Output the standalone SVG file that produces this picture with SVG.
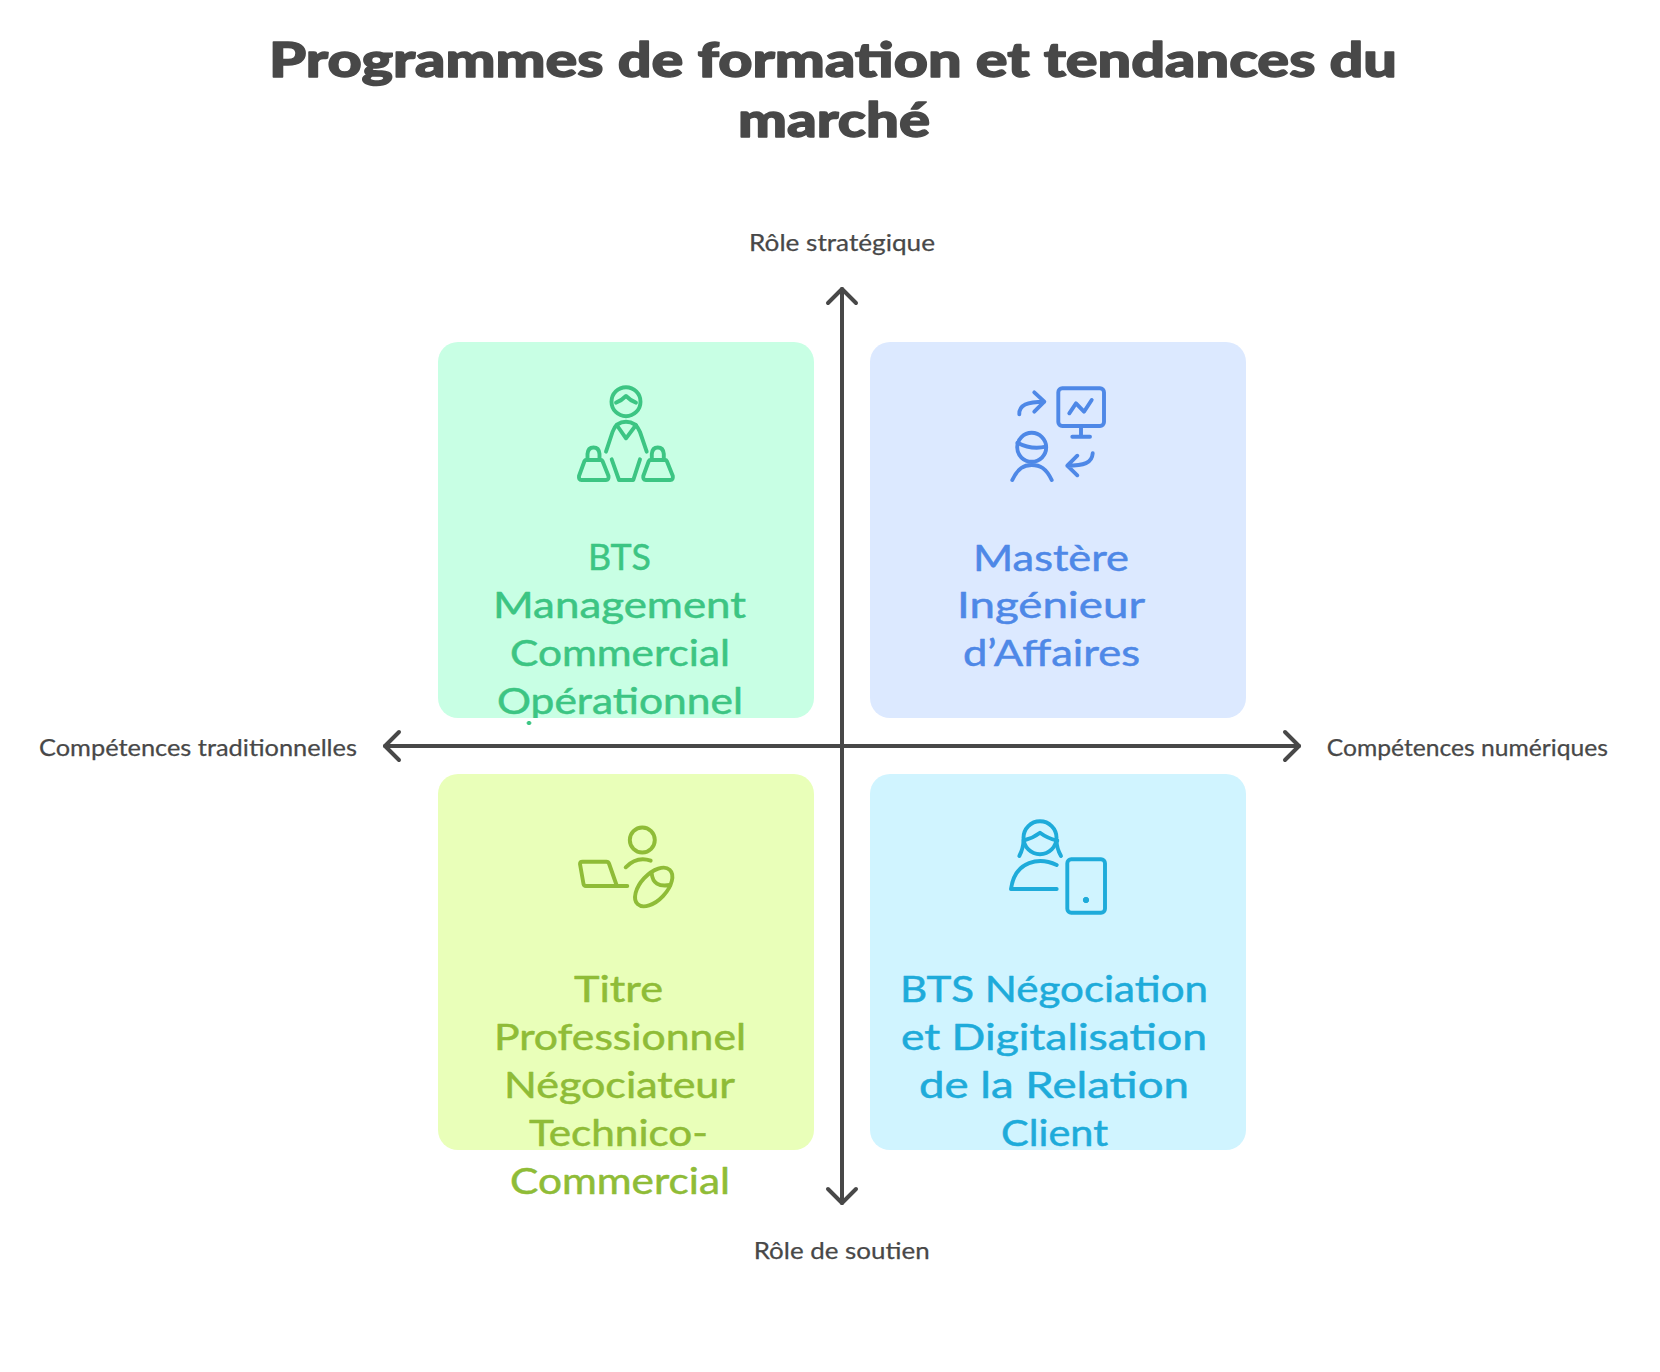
<svg xmlns="http://www.w3.org/2000/svg" width="1660" height="1372" viewBox="0 0 1660 1372">
<style>
text{font-family:"Lato","Noto Sans",sans-serif;stroke-linejoin:round;}
.title{font-size:48px;font-weight:900;fill:#484848;stroke:#484848;stroke-width:1.4;}
.axis{font-size:24px;fill:#484848;stroke:#484848;stroke-width:.25;}
.card{font-size:36px;stroke-width:.5;}
.ic{fill:none;stroke-width:3.9;stroke-linecap:round;stroke-linejoin:round;}
.ax{fill:none;stroke:#484848;stroke-width:4;stroke-linecap:round;stroke-linejoin:round;}
.green{fill:#3CC583;stroke:#3CC583;}.greens{stroke:#3CC583;}
.blue{fill:#4E88E7;stroke:#4E88E7;}.blues{stroke:#4E88E7;}
.olive{fill:#8FBC37;stroke:#8FBC37;}.olives{stroke:#8FBC37;}
.cyan{fill:#1EABDA;stroke:#1EABDA;}.cyans{stroke:#1EABDA;}
</style>
<defs>
<clipPath id="clip-op"><rect x="438" y="680" width="376" height="38"/></clipPath>
</defs>
<rect width="1660" height="1372" fill="#ffffff"/>
<g id="title">
<text class="title" x="269" y="77" textLength="1128" lengthAdjust="spacingAndGlyphs">Programmes de formation et tendances du</text>
<text class="title" x="738" y="137" textLength="192" lengthAdjust="spacingAndGlyphs">marché</text>
</g>
<g id="card-bts-mco">
<rect x="438" y="342" width="376" height="376" rx="20" fill="#C8FFE4"/>
<g class="ic greens">
<circle cx="626" cy="401.7" r="14.5"/>
<path d="M616 402.7Q621 401 626 396Q631 401 636 402.7"/>
<path d="M606 451.7L612.5 432Q616 421.7 626 421.7Q636 421.7 640 432L646.7 451.7"/>
<path d="M616.7 425L626 438.3L636 425"/>
<path d="M611.7 459.3L619 480H633.3L640 459.3"/>
<path d="M586 460H601Q602 460 602.5 461L608.5 476Q609 480 606 480H581.5Q578.5 480 579 476L584.5 461Q585 460 586 460Z"/>
<path d="M587.5 459.5V454Q588 447.5 593.5 447.5Q599 447.5 599.5 454V459.5"/>
<path d="M650.3 460H665.3Q666.3 460 666.8 461L672.8 476Q673.3 480 670.3 480H645.8Q642.8 480 643.3 476L648.8 461Q649.3 460 650.3 460Z"/>
<path d="M651.8 459.5V454Q652.3 447.5 657.8 447.5Q663.3 447.5 663.8 454V459.5"/>
</g>
<text class="card green" x="588" y="570" textLength="63" lengthAdjust="spacingAndGlyphs">BTS</text>
<text class="card green" x="493" y="618" textLength="253" lengthAdjust="spacingAndGlyphs">Management</text>
<text class="card green" x="510" y="666" textLength="220" lengthAdjust="spacingAndGlyphs">Commercial</text>
<g clip-path="url(#clip-op)"><text class="card green" x="497" y="714" textLength="246" lengthAdjust="spacingAndGlyphs">Opérationnel</text></g>
<ellipse class="green" cx="529" cy="723" rx="2" ry="1.6"/>
</g>
<g id="card-mastere">
<rect x="870" y="342" width="376" height="376" rx="20" fill="#DCE9FF"/>
<g class="ic blues">
<rect x="1058.3" y="388.3" width="45.7" height="37.7" rx="4"/>
<path d="M1081 426V436.7M1072.3 436.7H1090"/>
<path d="M1069.3 413.3L1076 403.3L1084 411.7L1091.7 400"/>
<path d="M1019.3 414.3C1019 405 1027 401.7 1044.3 401.7M1034.3 392.3L1044.3 401.7L1034.3 411.7"/>
<circle cx="1031.7" cy="447.3" r="14.5"/>
<path d="M1017.5 442.7Q1031 450 1046 446.7"/>
<path d="M1012.3 480C1018 468 1024 465 1031.7 465C1040 465 1046 468 1051.7 480"/>
<path d="M1092.7 453.3C1092 463 1084 465.7 1067.3 465.7M1077.3 455.7L1067.3 465.7L1077.3 475.3"/>
</g>
<text class="card blue" x="973" y="571" textLength="156" lengthAdjust="spacingAndGlyphs">Mastère</text>
<text class="card blue" x="957" y="618" textLength="188" lengthAdjust="spacingAndGlyphs">Ingénieur</text>
<text class="card blue" x="963" y="666" textLength="177" lengthAdjust="spacingAndGlyphs">d’Affaires</text>
</g>
<g id="card-titre-pro">
<rect x="438" y="774" width="376" height="376" rx="20" fill="#E9FFB9"/>
<g class="ic olives">
<circle cx="642.3" cy="840" r="12.5"/>
<path d="M625.7 867.3Q637 856 650.7 860.7"/>
<path d="M627.3 886H585.7Q584 886 583.5 884L580 864Q580 861.7 582.5 861.7H606.5Q608.3 861.7 609 863.5L616.7 885.5"/>
<ellipse cx="653.7" cy="887" rx="23.5" ry="13" transform="rotate(-47 653.7 887)"/>
<path d="M651.7 873.3Q653 888 670 885"/>
</g>
<text class="card olive" x="574" y="1002" textLength="89" lengthAdjust="spacingAndGlyphs">Titre</text>
<text class="card olive" x="494" y="1050" textLength="252" lengthAdjust="spacingAndGlyphs">Professionnel</text>
<text class="card olive" x="504" y="1098" textLength="231" lengthAdjust="spacingAndGlyphs">Négociateur</text>
<text class="card olive" x="529" y="1146" textLength="179" lengthAdjust="spacingAndGlyphs">Technico-</text>
<text class="card olive" x="510" y="1194" textLength="220" lengthAdjust="spacingAndGlyphs">Commercial</text>
</g>
<g id="card-bts-ndrc">
<rect x="870" y="774" width="376" height="376" rx="20" fill="#D0F4FF"/>
<g class="ic cyans">
<circle cx="1040" cy="837.7" r="16.5"/>
<path d="M1025 840Q1033 838 1040 832.7Q1047 838 1057.3 840.7"/>
<path d="M1019.3 856Q1023.5 848 1023.5 840M1061 856Q1056.5 848 1056.5 840"/>
<path d="M1056.7 865C1040 857 1015 860 1011 889H1056.7"/>
<rect x="1067.3" y="859.3" width="37.7" height="53.4" rx="4"/>
</g>
<circle class="cyan" cx="1086" cy="900" r="2.7"/>
<text class="card cyan" x="900" y="1002" textLength="308" lengthAdjust="spacingAndGlyphs">BTS Négociation</text>
<text class="card cyan" x="901" y="1050" textLength="306" lengthAdjust="spacingAndGlyphs">et Digitalisation</text>
<text class="card cyan" x="919" y="1098" textLength="270" lengthAdjust="spacingAndGlyphs">de la Relation</text>
<text class="card cyan" x="1001" y="1146" textLength="107" lengthAdjust="spacingAndGlyphs">Client</text>
</g>
<g id="connectors">
<path class="ax" d="M842 1203V289"/>
<path class="ax" d="M828 303L842 289L856 303"/>
<path class="ax" d="M828 1189L842 1203L856 1189"/>
<path class="ax" d="M385 746H1299"/>
<path class="ax" d="M399 732L385 746L399 760"/>
<path class="ax" d="M1285 732L1299 746L1285 760"/>
</g>
<g id="axis-labels">
<text class="axis" x="749" y="251" textLength="186" lengthAdjust="spacingAndGlyphs">Rôle stratégique</text>
<text class="axis" x="753.7" y="1259" textLength="176" lengthAdjust="spacingAndGlyphs">Rôle de soutien</text>
<text class="axis" x="39" y="755.5" textLength="318" lengthAdjust="spacingAndGlyphs">Compétences traditionnelles</text>
<text class="axis" x="1326.7" y="755.5" textLength="281.3" lengthAdjust="spacingAndGlyphs">Compétences numériques</text>
</g>
</svg>
